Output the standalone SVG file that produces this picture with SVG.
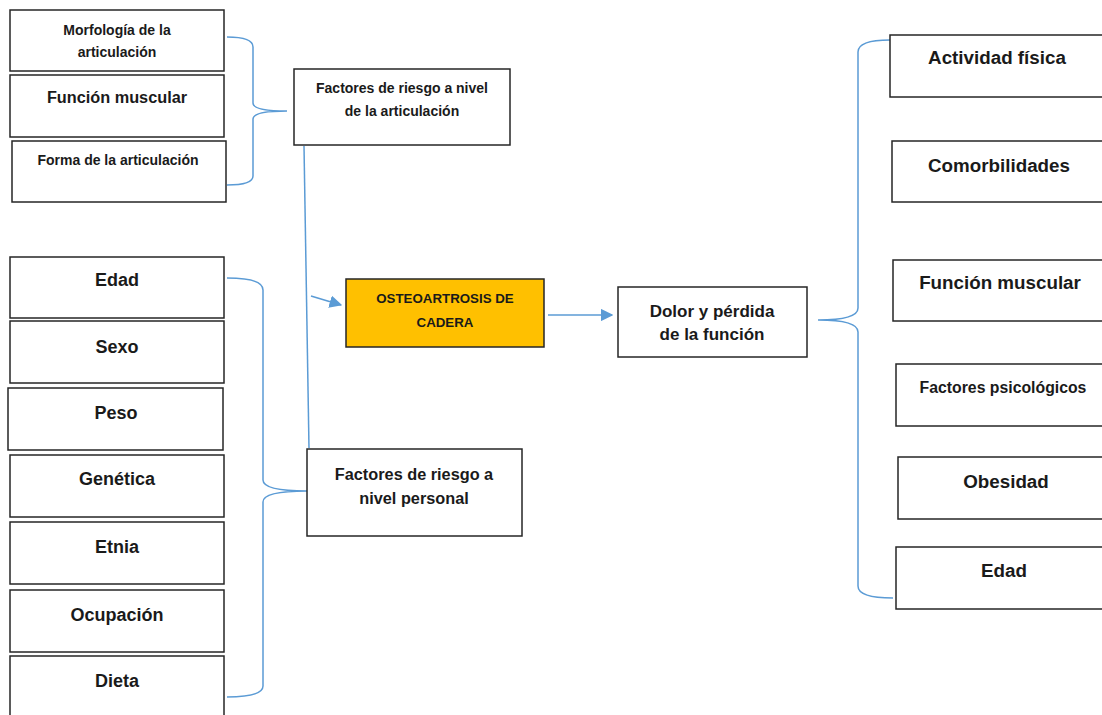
<svg xmlns="http://www.w3.org/2000/svg" width="1102" height="715" viewBox="0 0 1102 715">
<style>
.box{fill:#fff;stroke:#262626;stroke-width:1.5}
.hl{fill:#FFC000;stroke:#262626;stroke-width:1.5}
.t{font-family:"Liberation Sans",Arial,sans-serif;font-weight:bold;fill:#1a1a1a;text-anchor:middle}
.s{font-size:14px}
.o{font-size:13.3px}
.m{font-size:16.3px}
.d{font-size:17px}
.w{font-size:18px}
.l{font-size:18.8px}
.p{font-size:15.8px}
.c{fill:none;stroke:#5B9BD5;stroke-width:1.5}
</style>
<defs>
<marker id="ah" viewBox="0 0 10 10" refX="9" refY="5" markerWidth="8.5" markerHeight="8.5" orient="auto" markerUnits="strokeWidth">
<path d="M0,0 L10,5 L0,10 Z" fill="#5B9BD5"/>
</marker>
</defs>
<rect width="1102" height="715" fill="#fff"/>

<g id="connectors">
<path class="c" d="M227,37 Q253,37 253,47 L253,103 Q253,111 287,111 Q253,111 253,119 L253,176 Q253,185 227,185"/>
<path class="c" d="M227,278 Q263,278 263,290 L263,480 Q263,491 307,491 Q263,491 263,502 L263,686 Q263,697 227,697"/>
<path class="c" d="M890,40 Q858,40 858,52 L858,308 Q858,320 818,320 Q858,320 858,332 L858,586 Q858,598 893,598"/>
<line class="c" x1="304" y1="146" x2="309" y2="448"/>
<line class="c" x1="311" y1="296" x2="341" y2="305" marker-end="url(#ah)"/>
<line class="c" x1="548" y1="315" x2="612" y2="315" marker-end="url(#ah)"/>
</g>

<g id="morfologia"><rect class="box" x="10" y="10" width="214" height="61"/>
<text class="t s" x="117" y="35">Morfología de la</text><text class="t s" x="117" y="57">articulación</text></g>
<g id="funcion-muscular-art"><rect class="box" x="10" y="75" width="214" height="62"/>
<text class="t m" x="117" y="103">Función muscular</text></g>
<g id="forma"><rect class="box" x="12" y="141" width="214" height="61"/>
<text class="t s" x="118" y="165">Forma de la articulación</text></g>

<g id="factores-articulacion"><rect class="box" x="294" y="69" width="216" height="76"/>
<text class="t s" x="402" y="93">Factores de riesgo a nivel</text><text class="t s" x="402" y="116">de la articulación</text></g>

<g id="osteoartrosis"><rect class="hl" x="346" y="279" width="198" height="68"/>
<text class="t o" x="445" y="303">OSTEOARTROSIS DE</text><text class="t o" x="445" y="327">CADERA</text></g>

<g id="dolor"><rect class="box" x="618" y="287" width="189" height="70"/>
<text class="t d" x="712" y="317">Dolor y pérdida</text><text class="t d" x="712" y="340">de la función</text></g>

<g id="factores-personal"><rect class="box" x="307" y="449" width="215" height="87"/>
<text class="t m" x="414" y="480">Factores de riesgo a</text><text class="t m" x="414" y="504">nivel personal</text></g>

<g id="edad-l"><rect class="box" x="10" y="257" width="214" height="61"/><text class="t w" x="117" y="286">Edad</text></g>
<g id="sexo"><rect class="box" x="10" y="321" width="214" height="62"/><text class="t w" x="117" y="353">Sexo</text></g>
<g id="peso"><rect class="box" x="8" y="388" width="215" height="62"/><text class="t w" x="116" y="419">Peso</text></g>
<g id="genetica"><rect class="box" x="10" y="455" width="214" height="62"/><text class="t w" x="117" y="485">Genética</text></g>
<g id="etnia"><rect class="box" x="10" y="522" width="214" height="62"/><text class="t w" x="117" y="553">Etnia</text></g>
<g id="ocupacion"><rect class="box" x="10" y="590" width="214" height="62"/><text class="t w" x="117" y="621">Ocupación</text></g>
<g id="dieta"><rect class="box" x="10" y="656" width="214" height="64"/><text class="t w" x="117" y="687">Dieta</text></g>

<g id="actividad"><rect class="box" x="890" y="35" width="220" height="62"/><text class="t l" x="997" y="64">Actividad física</text></g>
<g id="comorbilidades"><rect class="box" x="892" y="141" width="220" height="61"/><text class="t l" x="999" y="172">Comorbilidades</text></g>
<g id="funcion-muscular-r"><rect class="box" x="893" y="260" width="220" height="61"/><text class="t l" x="1000" y="289">Función muscular</text></g>
<g id="psicologicos"><rect class="box" x="896" y="364" width="220" height="62"/><text class="t p" x="1003" y="393">Factores psicológicos</text></g>
<g id="obesidad"><rect class="box" x="898" y="457" width="220" height="62"/><text class="t l" x="1006" y="488">Obesidad</text></g>
<g id="edad-r"><rect class="box" x="896" y="547" width="220" height="62"/><text class="t l" x="1004" y="577">Edad</text></g>
</svg>
